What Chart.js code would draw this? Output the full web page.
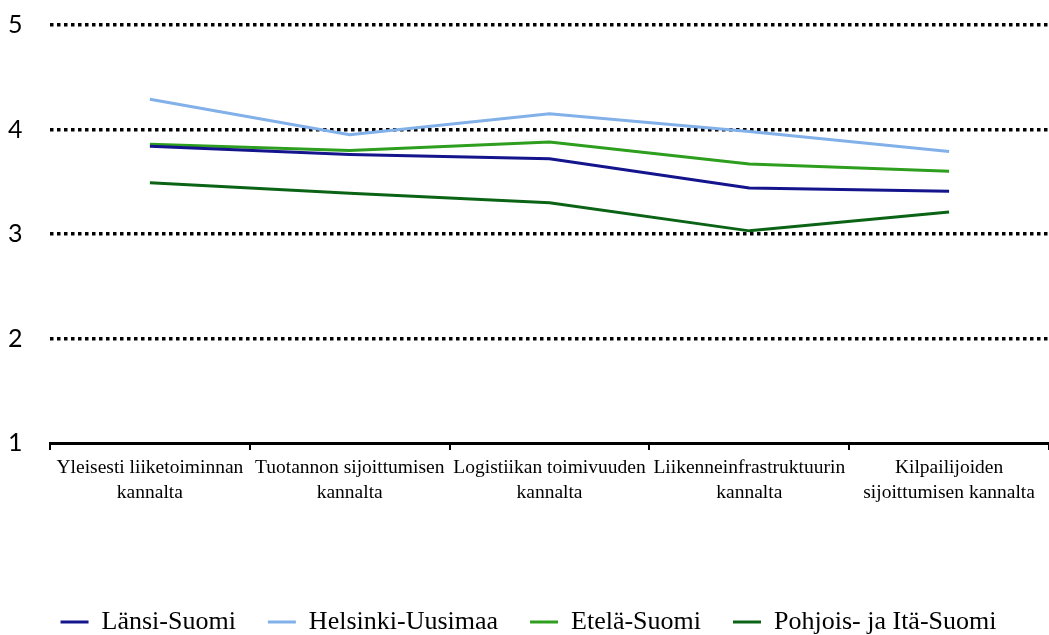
<!DOCTYPE html>
<html>
<head>
<meta charset="utf-8">
<script src="https://cdn.jsdelivr.net/npm/chart.js@4"></script>
<style>
    html, body { margin: 0; padding: 0; background: #fff; }
    #wrap { width: 1049px; height: 635px; position: relative; }
</style>
</head>
<body>
<div id="wrap"><canvas id="chart"></canvas></div>
<script>
// Kategoriat ja sarjat (arvioitu kuvasta)
const categories = [
    ['Yleisesti liiketoiminnan', 'kannalta'],
    ['Tuotannon sijoittumisen', 'kannalta'],
    ['Logistiikan toimivuuden', 'kannalta'],
    ['Liikenneinfrastruktuurin', 'kannalta'],
    ['Kilpailijoiden', 'sijoittumisen kannalta']
];
const seriesNames = ['Länsi-Suomi', 'Helsinki-Uusimaa', 'Etelä-Suomi', 'Pohjois- ja Itä-Suomi'];
const lansiSuomi = [3.84, 3.76, 3.72, 3.44, 3.41];
const helsinkiUusimaa = [4.29, 3.95, 4.15, 3.98, 3.79];
const etelaSuomi = [3.86, 3.80, 3.88, 3.67, 3.60];
const pohjoisItaSuomi = [3.49, 3.39, 3.30, 3.03, 3.21];
const yTicks = [1, 2, 3, 4, 5];

const colors = ['#14148c', '#82b0e8', '#2e9e1e', '#0b6416'];
const values = [lansiSuomi, helsinkiUusimaa, etelaSuomi, pohjoisItaSuomi];

const datasets = seriesNames.map((name, i) => ({
    label: name,
    data: values[i],
    borderColor: colors[i],
    backgroundColor: colors[i],
    borderWidth: 3,
    pointRadius: 0,
    pointHoverRadius: 0,
    pointStyle: 'line',
    tension: 0,
    fill: false
}));

const ctx = document.getElementById('chart').getContext('2d');
new Chart(ctx, {
    type: 'line',
    data: { labels: categories, datasets: datasets },
    options: {
        responsive: true,
        maintainAspectRatio: false,
        animation: false,
        // negatiivinen alareuna painaa selitteen lähemmäs kuvan alareunaa
        layout: { padding: { top: 25, right: 0, bottom: -10, left: 8 } },
        plugins: {
            tooltip: { enabled: false },
            legend: {
                position: 'bottom',
                labels: {
                    usePointStyle: true,
                    pointStyle: 'line',
                    pointStyleWidth: 28,
                    boxHeight: 22,
                    padding: 32,
                    color: '#000',
                    font: { family: '"Liberation Serif", "Times New Roman", serif', size: 26 }
                }
            }
        },
        scales: {
            x: {
                offset: true,
                grid: {
                    offset: true,
                    drawOnChartArea: false,
                    drawTicks: true,
                    tickLength: 7,
                    color: '#000',
                    lineWidth: 2
                },
                border: { display: true, color: '#000', width: 3 },
                ticks: {
                    color: '#000',
                    padding: 6,
                    maxRotation: 0,
                    autoSkip: false,
                    font: { family: '"Liberation Serif", "Times New Roman", serif', size: 19.5, lineHeight: 1.25 }
                },
                afterFit: (scale) => { scale.height = 134; }
            },
            y: {
                min: 1,
                max: 5,
                afterBuildTicks: (scale) => { scale.ticks = yTicks.map(v => ({ value: v })); },
                grid: {
                    drawTicks: false,
                    color: (c) => (c.tick && c.tick.value === 1 ? 'rgba(0,0,0,0)' : '#000'),
                    lineWidth: 3.5
                },
                border: { display: false, dash: [3.5, 3.5] },
                ticks: {
                    color: '#000',
                    padding: 4,
                    crossAlign: 'far',
                    font: { family: 'Lato, "Open Sans", sans-serif', size: 25 }
                },
                afterFit: (scale) => { scale.width = 42; }
            }
        }
    }
});
</script>
</body>
</html>
